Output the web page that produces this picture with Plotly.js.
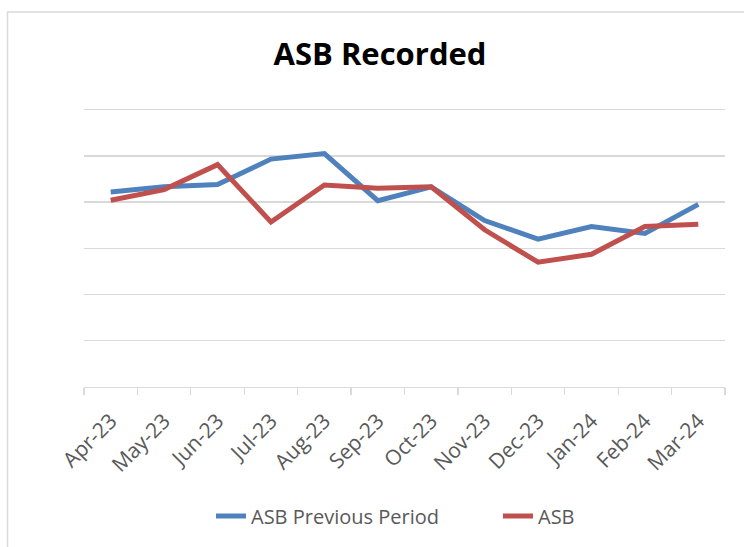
<!DOCTYPE html>
<html>
<head>
<meta charset="utf-8">
<script src="https://cdn.plot.ly/plotly-3.0.1.min.js"></script>
<style>html,body{margin:0;padding:0;background:#fff;}#chart{width:744px;height:547px;}</style>
</head>
<body>
<div id="chart"></div>
<script>
const months = ["Apr-23","May-23","Jun-23","Jul-23","Aug-23","Sep-23","Oct-23","Nov-23","Dec-23","Jan-24","Feb-24","Mar-24"];
const asbPrevious = [42.2, 43.3, 43.8, 49.3, 50.5, 40.3, 43.3, 36.0, 32.0, 34.7, 33.2, 39.5];
const asb = [40.4, 42.7, 48.1, 35.7, 43.7, 43.0, 43.3, 34.0, 27.0, 28.7, 34.7, 35.2];

const fontFam = "'Open Sans', Lato, sans-serif";
const traces = [
  {x: months, y: asbPrevious, name: "ASB Previous Period", type: "scatter", mode: "lines",
   line: {color: "#4F81BD", width: 5}, legend: "legend"},
  {x: months, y: asb, name: "ASB", type: "scatter", mode: "lines",
   line: {color: "#C0504D", width: 5}, legend: "legend2"}
];
const unit = 278 / 60;
const L = 84, R = 19, B = 547 - 387.3, T = 109.3 - unit;
const pw = 744 - L - R, ph = 547 - T - B;
const legendY = 1 - 516 / 547;
const legendFont = {size: 20, color: "#595959", family: fontFam};
const layout = {
  width: 744, height: 547,
  margin: {l: L, r: R, t: T, b: B, autoexpand: false},
  paper_bgcolor: "#fff", plot_bgcolor: "#fff",
  font: {family: fontFam, color: "#595959"},
  title: {text: "<b>ASB Recorded</b>", font: {family: fontFam, size: 31, color: "#000"},
          x: 380 / 744, xanchor: "center", y: 1 - 54/547, yanchor: "middle"},
  xaxis: {type: "category", range: [-0.5, 11.5], tickson: "boundaries", ticks: "outside", ticklen: 7, tickcolor: "#d9d9d9", tickwidth: 1.3,
          showline: true, linecolor: "#d9d9d9", linewidth: 1.3, showgrid: false, tickangle: -45, ticklabelstandoff: 12,
          automargin: false, tickfont: {size: 21, color: "#595959", family: fontFam}, fixedrange: true},
  yaxis: {range: [0, 61], dtick: 10, showticklabels: false, showgrid: true, gridcolor: "#d9d9d9", gridwidth: 1.3,
          zeroline: false, showline: false, ticks: "", automargin: false, fixedrange: true},
  showlegend: true,
  legend: {orientation: "h", xref: "container", yref: "container", x: 211 / 744, xanchor: "left", y: legendY, yanchor: "middle",
           font: legendFont, bgcolor: "rgba(0,0,0,0)"},
  legend2: {orientation: "h", xref: "container", yref: "container", x: 498 / 744, xanchor: "left", y: legendY, yanchor: "middle",
           font: legendFont, bgcolor: "rgba(0,0,0,0)"},
  shapes: [{type: "rect", xref: "paper", yref: "paper", layer: "below",
            x0: (7.5 - L) / pw, x1: 1.2, y0: -0.8, y1: (387.3 - 11.5) / ph,
            line: {color: "#d9d9d9", width: 1.5}}]
};
Plotly.newPlot("chart", traces, layout, {displayModeBar: false, staticPlot: true});
</script>
</body>
</html>
